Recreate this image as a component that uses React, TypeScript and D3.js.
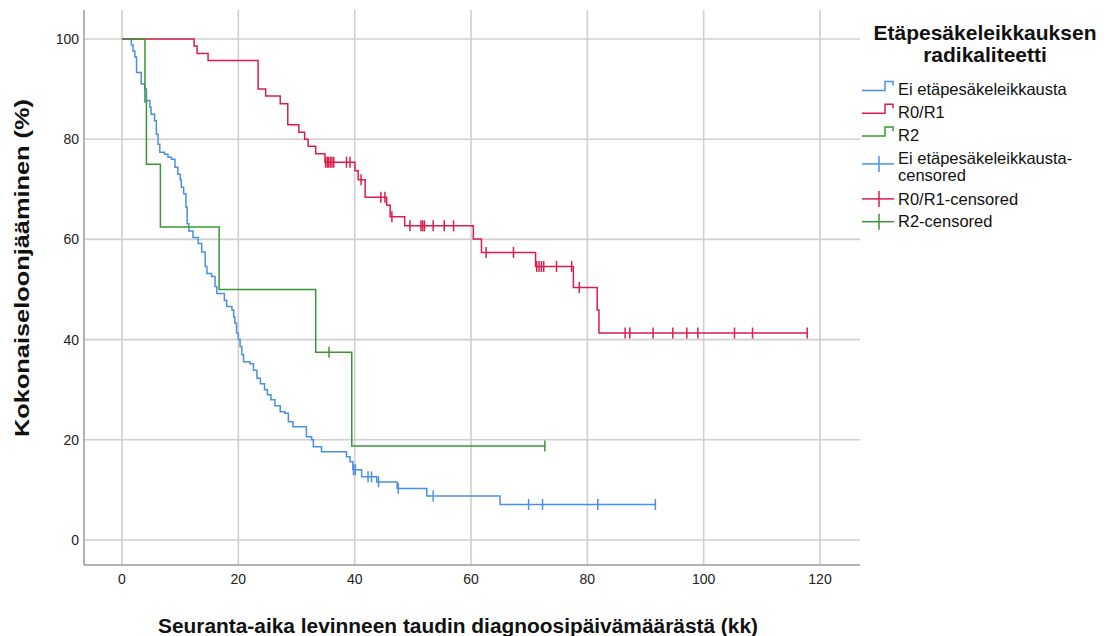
import React from 'react';
import * as d3 from 'd3';

// Kaplan-Meier steps: [aika (kk), eloonjääminen %] after each drop
const blueEvents: [number, number][] = [
  [1.6, 98.8], [1.9, 97.6], [2.2, 96.4], [2.5, 93.3], [3.3, 91.0], [3.9, 90.0], [4.2, 87.7],
  [4.8, 86.4], [5.0, 85.0], [5.6, 83.7], [5.9, 81.0], [6.2, 79.0], [6.5, 77.4], [7.3, 77.0],
  [7.9, 76.4], [8.5, 76.0], [9.1, 74.4], [9.6, 73.0], [10.0, 71.9], [10.2, 70.4], [10.6, 69.1],
  [11.0, 66.4], [11.2, 63.1], [11.5, 61.7], [12.2, 60.4], [13.1, 59.2], [13.7, 57.5], [14.3, 54.6],
  [14.6, 53.2], [15.4, 52.6], [16.0, 50.6], [16.3, 49.2], [17.6, 47.8], [18.0, 46.6], [18.9, 45.9],
  [19.2, 44.5], [19.4, 43.3], [19.7, 41.3], [20.0, 40.0], [20.3, 38.6], [20.6, 37.0], [20.9, 35.6],
  [22.0, 35.2], [22.6, 33.9], [23.2, 32.3], [23.8, 31.2], [24.5, 30.0], [25.0, 29.0], [25.6, 28.0],
  [26.3, 26.8], [27.2, 25.6], [28.0, 25.3], [28.6, 23.6], [29.4, 22.6], [31.7, 20.6], [32.6, 20.0],
  [32.9, 18.6], [34.3, 17.6], [38.6, 16.6], [39.2, 15.6], [39.7, 14.0], [41.2, 12.6], [43.8, 11.6],
  [47.3, 10.3], [52.4, 8.8], [65.0, 7.1],
];
const blueCensored = [39.8, 40.1, 42.3, 42.9, 44.1, 47.5, 53.5, 69.9, 72.3, 81.8, 91.7];

const redEvents: [number, number][] = [
  [12.4, 98.6], [12.9, 97.1], [14.8, 95.7], [23.4, 90.0], [24.7, 88.6], [27.2, 87.1], [28.5, 82.9],
  [30.4, 81.4], [31.4, 80.0], [32.0, 78.6], [33.3, 77.1], [34.9, 75.4], [40.05, 73.7], [40.6, 71.9],
  [41.8, 68.4], [45.5, 66.8], [46.1, 64.5], [48.6, 62.7], [60.4, 60.1], [61.8, 57.4], [71.1, 54.6],
  [77.6, 50.4], [81.7, 45.9], [82.0, 41.3],
];
const redCensored = [
  35.0, 35.3, 35.5, 35.8, 36.1, 36.4, 38.6, 39.2, 41.1, 44.5, 45.2, 46.4, 49.5, 51.4, 51.7, 52.0,
  53.5, 55.4, 57.0, 62.6, 67.3, 71.3, 71.7, 72.1, 72.5, 74.7, 77.3, 78.6, 86.5, 87.3, 91.3, 94.7,
  97.1, 99.0, 105.3, 108.4, 117.8,
];

const greenEvents: [number, number][] = [
  [3.95, 87.5], [4.2, 75.0], [6.6, 62.5], [16.7, 50.0], [33.3, 37.5], [39.5, 18.75],
];
const greenCensored = [35.6, 72.7];

const xTicks = [0, 20, 40, 60, 80, 100, 120];
const yTicks = [0, 20, 40, 60, 80, 100];

const legendTitle = ['Etäpesäkeleikkauksen', 'radikaliteetti'];
const legendItems = [
  { label: ['Ei etäpesäkeleikkausta'], key: 'blue', censor: false },
  { label: ['R0/R1'], key: 'red', censor: false },
  { label: ['R2'], key: 'green', censor: false },
  { label: ['Ei etäpesäkeleikkausta-', 'censored'], key: 'blue', censor: true },
  { label: ['R0/R1-censored'], key: 'red', censor: true },
  { label: ['R2-censored'], key: 'green', censor: true },
];

const colors: Record<string, string> = { blue: '#4a90e2', red: '#d81e4c', green: '#3a9634' };

const W = 1110;
const H = 636;
const frame = { left: 84, right: 860, top: 10, bottom: 565 };
const font = '"Liberation Sans", Arial, sans-serif';

const x = d3.scaleLinear().domain([0, 120]).range([122, 820]);
const y = d3.scaleLinear().domain([0, 100]).range([540, 39]);

const survivalAt = (events: [number, number][], t: number) => {
  let s = 100;
  events.forEach(([et, es]) => { if (et <= t) s = es; });
  return s;
};

const stepLine = d3.line<[number, number]>()
  .x(d => x(d[0]))
  .y(d => y(d[1]))
  .curve(d3.curveStepAfter);

const series = [
  { key: 'blue', events: blueEvents, censored: blueCensored },
  { key: 'red', events: redEvents, censored: redCensored },
  { key: 'green', events: greenEvents, censored: greenCensored },
];

export default function App() {
  return (
    <svg width={W} height={H} style={{ position: 'absolute', left: 0, top: 0, background: '#fff' }}>
      {/* grid */}
      {xTicks.map(t => (
        <line key={'gx' + t} x1={x(t)} x2={x(t)} y1={frame.top} y2={frame.bottom}
          stroke="#cfcfcf" strokeWidth={1.6} />
      ))}
      {yTicks.map(t => (
        <line key={'gy' + t} x1={frame.left} x2={frame.right} y1={y(t)} y2={y(t)}
          stroke="#cfcfcf" strokeWidth={1.6} />
      ))}
      {/* axes */}
      <line x1={frame.left} x2={frame.left} y1={frame.top} y2={frame.bottom} stroke="#9a9a9a" strokeWidth={1.5} />
      <line x1={frame.left} x2={frame.right} y1={frame.bottom} y2={frame.bottom} stroke="#9a9a9a" strokeWidth={1.5} />

      {yTicks.map(t => (
        <text key={'ty' + t} x={79} y={y(t)} dy="0.35em" textAnchor="end" fontFamily={font}
          fontSize={14} fill="#222">{t}</text>
      ))}
      {xTicks.map(t => (
        <text key={'tx' + t} x={x(t)} y={579} dy="0.35em" textAnchor="middle" fontFamily={font}
          fontSize={14} fill="#222">{t}</text>
      ))}

      {/* curves */}
      {series.map(s => {
        const last = s.events[s.events.length - 1];
        const end = Math.max(last[0], d3.max(s.censored) ?? 0);
        const pts: [number, number][] = [[0, 100], ...s.events, [end, last[1]]];
        return (
          <g key={s.key}>
            <path d={stepLine(pts) ?? ''} fill="none" stroke={colors[s.key]} strokeWidth={1.5} />
            {s.censored.map((c, i) => (
              <line key={i} x1={x(c)} x2={x(c)} y1={y(survivalAt(s.events, c)) - 5.5}
                y2={y(survivalAt(s.events, c)) + 5.5} stroke={colors[s.key]} strokeWidth={1.5} />
            ))}
          </g>
        );
      })}

      {/* axis titles */}
      <text x={458} y={633} textAnchor="middle" fontFamily={font} fontSize={20} fontWeight="bold"
        fill="#111" textLength={600} lengthAdjust="spacingAndGlyphs">
        Seuranta-aika levinneen taudin diagnoosipäivämäärästä (kk)
      </text>
      <text transform="translate(29,268) rotate(-90)" textAnchor="middle" fontFamily={font} fontSize={20}
        fontWeight="bold" fill="#111" textLength={338} lengthAdjust="spacingAndGlyphs">
        Kokonaiseloonjääminen (%)
      </text>

      {/* legend */}
      {legendTitle.map((l, i) => (
        <text key={l} x={985} y={40 + i * 22} textAnchor="middle" fontFamily={font} fontSize={21}
          fontWeight="bold" fill="#111">{l}</text>
      ))}
      {(() => {
        let rowY = 89.5;
        return legendItems.map((it, i) => {
          const two = it.label.length > 1;
          const cy = two ? rowY + 6 : rowY;
          const c = colors[it.key];
          const g = (
            <g key={i}>
              {it.censor ? (
                <g>
                  <line x1={862} x2={894} y1={cy} y2={cy} stroke={c} strokeWidth={1.5} />
                  <line x1={879} x2={879} y1={cy - 8} y2={cy + 8} stroke={c} strokeWidth={1.5} />
                </g>
              ) : (
                <path d={`M862,${cy + 1}H885V${cy - 8}H893V${cy - 4}`} fill="none" stroke={c} strokeWidth={1.5} />
              )}
              {it.label.map((l, j) => (
                <text key={j} x={898} y={rowY + j * 17} dy="0.35em" fontFamily={font} fontSize={16.5} fill="#111">{l}</text>
              ))}
            </g>
          );
          rowY += two ? 41 : 22.8;
          return g;
        });
      })()}
    </svg>
  );
}
